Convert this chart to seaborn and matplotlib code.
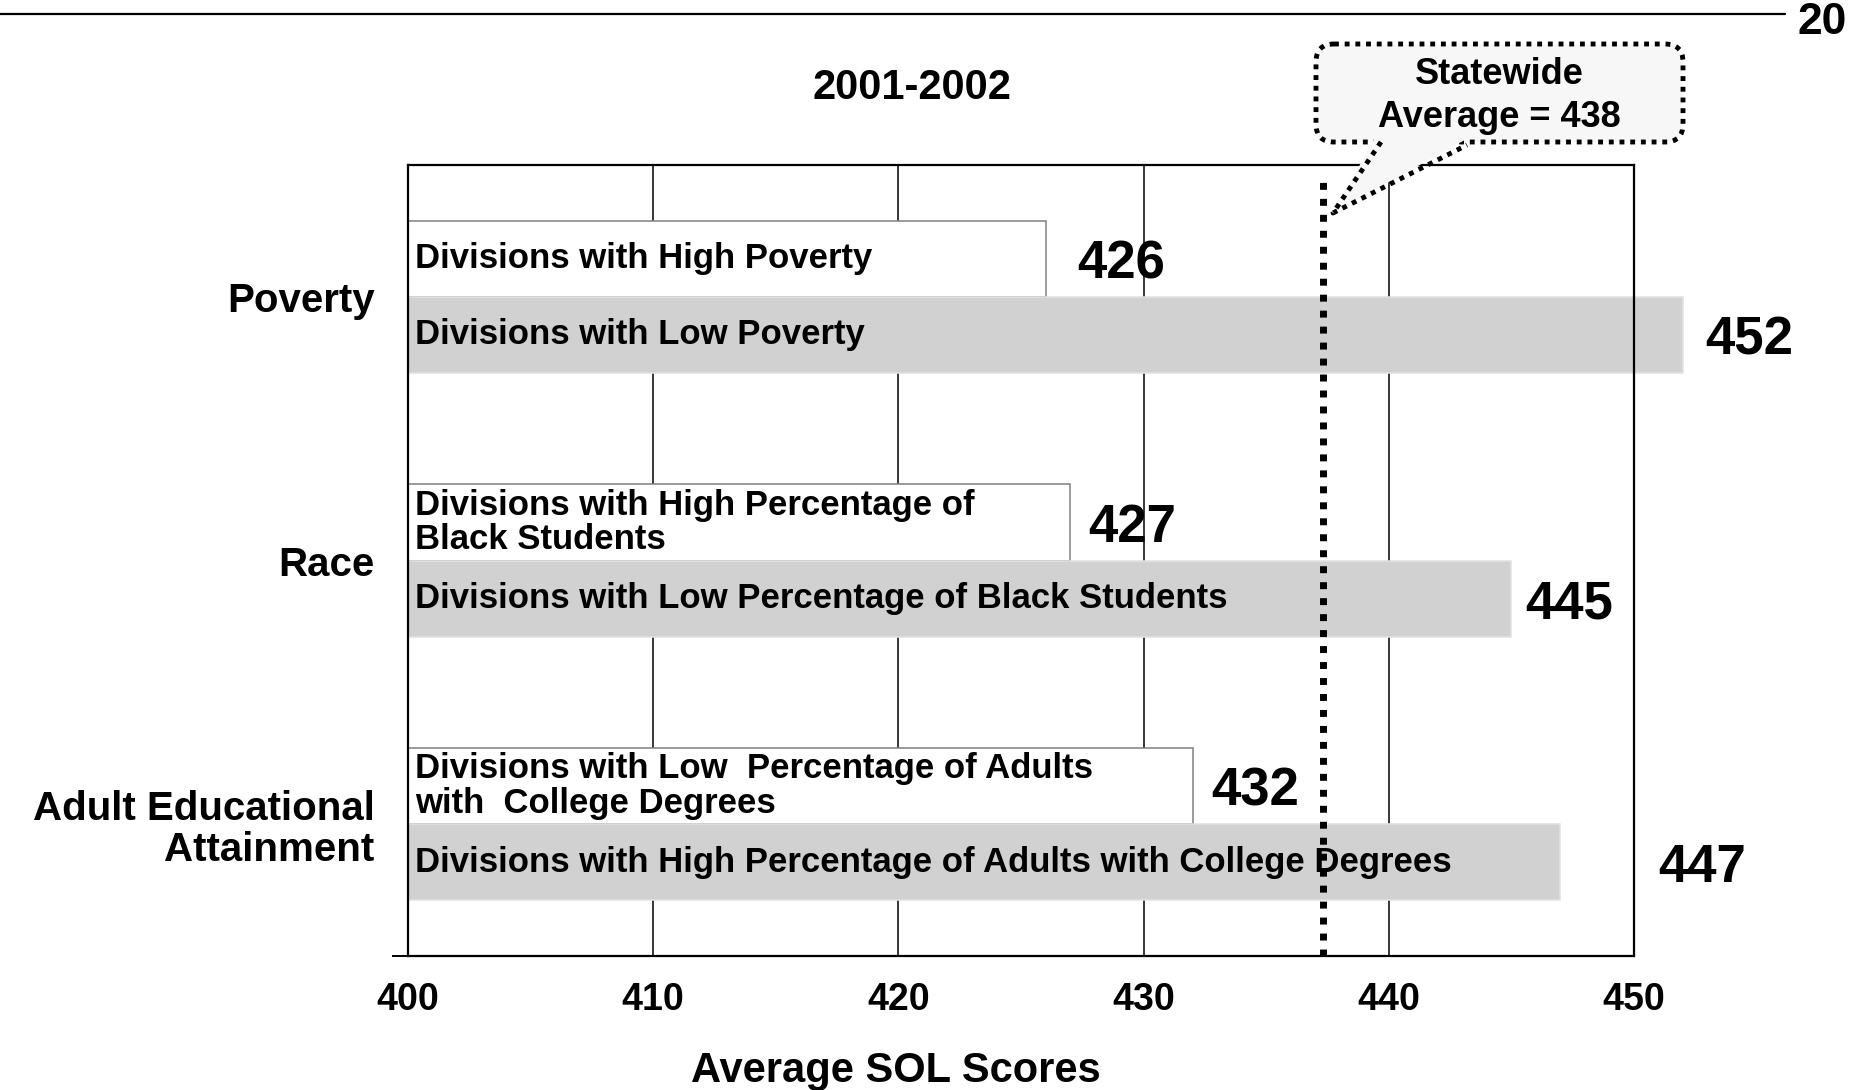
import matplotlib
matplotlib.use("Agg")
import matplotlib.pyplot as plt
import seaborn as sns
import pandas as pd
from matplotlib.patches import Rectangle, FancyBboxPatch, Polygon

# ---------------- data ----------------
groups = ["Poverty", "Race", "Adult Educational\nAttainment"]
group_of_bar = ["Poverty", "Poverty", "Race", "Race",
                "Adult Educational\nAttainment", "Adult Educational\nAttainment"]
divisions = [
    "Divisions with High Poverty",
    "Divisions with Low Poverty",
    "Divisions with High Percentage of\nBlack Students",
    "Divisions with Low Percentage of Black Students",
    "Divisions with Low  Percentage of Adults\nwith  College Degrees",
    "Divisions with High Percentage of Adults with College Degrees",
]
tiers = ["Lower-scoring", "Higher-scoring"] * 3
scores = [426, 452, 427, 445, 432, 447]
statewide_avg = 438
statewide_line_pos = 437.3
x_ticks = [400, 410, 420, 430, 440, 450]
title = "2001-2002"
x_label = "Average SOL Scores"
page_number = "20"

# ---------------- layout / style ----------------
value_label_pad_px = [32, 22, 18, 14, 19, 98]
tier_order = ["Lower-scoring", "Higher-scoring"]
tier_colors = {"Lower-scoring": "white", "Higher-scoring": "#d1d1d1"}
tier_edges = {"Lower-scoring": "#808080", "Higher-scoring": "#e2e2e2"}

sns.set_style("white")
plt.rcParams["font.family"] = ["Liberation Sans", "DejaVu Sans"]
plt.rcParams["font.weight"] = "bold"
for k in ["text.color", "axes.labelcolor", "xtick.color", "ytick.color",
          "xtick.labelcolor", "ytick.labelcolor"]:
    plt.rcParams[k] = "black"

W, H = 1854, 1090
fig = plt.figure(figsize=(W / 100, H / 100), dpi=100)
fig.patch.set_facecolor("white")
ax = fig.add_axes([408 / W, 1 - 956 / H, (1634 - 408) / W, (956 - 165) / H])

df = pd.DataFrame({"group": group_of_bar, "division": divisions,
                   "tier": tiers, "score": scores})

sns.barplot(data=df, x="score", y="group", hue="tier", order=groups,
            hue_order=tier_order, palette=tier_colors, width=0.577,
            orient="h", legend=False, saturation=1, errorbar=None, ax=ax)

ax.set_xlim(400, 450)
ax.set_ylim(2.5, -0.5)

clip = Rectangle((400, -0.5), 100, 3, transform=ax.transData)
for tier, cont in zip(tier_order, ax.containers):
    for gname, p in zip(groups, cont):
        p.set_clip_path(clip)
        p.set_edgecolor(tier_edges[tier])
        p.set_linewidth(1.1)
        p.set_zorder(2)
        yc = p.get_y() + p.get_height() / 2
        row = df[(df.group == gname) & (df.tier == tier)].iloc[0]
        i = int(row.name)
        ax.annotate(row.division, xy=(400, yc), xytext=(7, 0),
                    textcoords="offset pixels", ha="left", va="center",
                    fontsize=25, linespacing=1.05, zorder=5)
        ax.annotate(str(row.score), xy=(row.score, yc),
                    xytext=(value_label_pad_px[i], 0),
                    textcoords="offset pixels", ha="left",
                    va="center_baseline", fontsize=38, zorder=5,
                    annotation_clip=False)

# grid, ticks, spines
ax.set_xticks(x_ticks)
ax.grid(axis="x", color="black", lw=1.1)
ax.grid(axis="y", visible=False)
ax.set_axisbelow(True)
for s in ax.spines.values():
    s.set_visible(True)
    s.set_color("black")
    s.set_linewidth(1.6)

ax.tick_params(axis="x", length=0, pad=19, labelsize=27)
ax.tick_params(axis="y", which="major", length=0, pad=24, labelsize=29)
for lab in ax.get_yticklabels():
    lab.set_linespacing(1.1)
ax.set_yticks([2.5], minor=True)
ax.tick_params(axis="y", which="minor", left=True, length=11.5,
               width=1.4, color="black")

ax.set_ylabel("")
ax.set_xlabel(x_label, fontsize=30, fontweight="bold")
ax.xaxis.set_label_coords(0.398, -0.146)
ax.xaxis.label.set_va("center")

# statewide average line
ax.axvline(statewide_line_pos, ymin=0, ymax=0.98, color="black", lw=5,
           linestyle=(0, (1, 1.3)), dash_capstyle="butt", zorder=6)

# ---------------- overlay (page decorations, title, callout) -------------
ov = fig.add_axes([0, 0, 1, 1], zorder=10)
ov.set_xlim(0, W)
ov.set_ylim(H, 0)
ov.axis("off")
ov.patch.set_alpha(0)

ov.plot([0, 1785], [14, 14], color="black", lw=1.6)
ov.text(1822, 23, page_number, ha="center", va="center", fontsize=32)
ov.text(912, 88, title, ha="center", va="center", fontsize=30)

dots = (0, (1, 1.2))
box = FancyBboxPatch((1316, 44), 367, 98,
                     boxstyle="round,pad=0,rounding_size=18",
                     fc="#f7f7f7", ec="black", lw=3.5, ls=dots)
ov.add_patch(box)
ov.add_patch(Polygon([(1376, 136), (1333, 213), (1472, 136)],
                     closed=True, fc="#f7f7f7", ec="none"))
ov.plot([1381, 1333, 1467], [142, 213, 145], color="black", lw=3.5,
        linestyle=dots, solid_joinstyle="round")
ov.text(1499, 96, f"Statewide\nAverage = {statewide_avg}", ha="center",
        va="center", fontsize=26, linespacing=1.3)

fig.savefig("out.png", dpi=100, facecolor="white")
